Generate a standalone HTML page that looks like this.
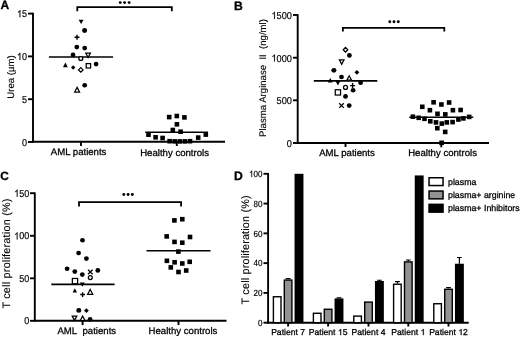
<!DOCTYPE html>
<html><head><meta charset="utf-8"><style>
html,body{margin:0;padding:0;background:#fff;}
svg{display:block;font-family:"Liberation Sans", sans-serif;will-change:transform;text-rendering:geometricPrecision;}
</style></head><body>
<svg width="520" height="337" viewBox="0 0 520 337">
<rect width="520" height="337" fill="#fff"/>
<text x="0.4" y="9.4" font-size="12.0" text-anchor="start" font-weight="bold" fill="#000" stroke="#000" stroke-width="0.3"  >A</text>
<line x1="33" y1="12.8" x2="33" y2="142.6" stroke="#000" stroke-width="1.9"/>
<line x1="28" y1="13.6" x2="33" y2="13.6" stroke="#000" stroke-width="1.9"/>
<path transform="translate(16.99,17.2) scale(0.004395,-0.004883)" d="M763 0H583V1147Q518 1085 412.5 1023Q307 961 223 930V1104Q374 1175 487 1276Q600 1377 647 1472H763Z" stroke="#000" stroke-width="36.9"/>
<text transform="translate(27.0,17.2) scale(0.9,1)" font-size="10.0" text-anchor="end" font-weight="normal" fill="#000" stroke="#000" stroke-width="0.18"  ><tspan fill="transparent" stroke="transparent">1</tspan>5</text>
<line x1="28" y1="56.4" x2="33" y2="56.4" stroke="#000" stroke-width="1.9"/>
<path transform="translate(16.99,60.0) scale(0.004395,-0.004883)" d="M763 0H583V1147Q518 1085 412.5 1023Q307 961 223 930V1104Q374 1175 487 1276Q600 1377 647 1472H763Z" stroke="#000" stroke-width="36.9"/>
<text transform="translate(27.0,60.0) scale(0.9,1)" font-size="10.0" text-anchor="end" font-weight="normal" fill="#000" stroke="#000" stroke-width="0.18"  ><tspan fill="transparent" stroke="transparent">1</tspan>0</text>
<line x1="28" y1="99.2" x2="33" y2="99.2" stroke="#000" stroke-width="1.9"/>
<text transform="translate(27.0,102.8) scale(0.9,1)" font-size="10.0" text-anchor="end" font-weight="normal" fill="#000" stroke="#000" stroke-width="0.18"  >5</text>
<line x1="28" y1="142" x2="33" y2="142" stroke="#000" stroke-width="1.9"/>
<text transform="translate(27.0,145.6) scale(0.9,1)" font-size="10.0" text-anchor="end" font-weight="normal" fill="#000" stroke="#000" stroke-width="0.18"  >0</text>
<line x1="32" y1="141.7" x2="225" y2="141.7" stroke="#000" stroke-width="1.9"/>
<line x1="81" y1="142" x2="81" y2="146" stroke="#000" stroke-width="1.9"/>
<line x1="176.8" y1="142" x2="176.8" y2="146" stroke="#000" stroke-width="1.9"/>
<text x="78.6" y="155.3" font-size="9.6" text-anchor="middle" font-weight="normal" fill="#000" stroke="#000" stroke-width="0.28"  >AML patients</text>
<text x="174.6" y="155.6" font-size="9.6" text-anchor="middle" font-weight="normal" fill="#000" stroke="#000" stroke-width="0.28"  >Healthy controls</text>
<text transform="translate(14.0,77) rotate(-90)" font-size="9.6" text-anchor="middle" fill="#000" stroke="#000" stroke-width="0.12"  >Urea (µm)</text>
<path d="M77.3 11.3V7.05H171.8V11.3" fill="none" stroke="#000" stroke-width="1.8"/>
<circle cx="120.2" cy="2.6" r="1.45"/>
<circle cx="124.6" cy="2.6" r="1.45"/>
<circle cx="129.1" cy="2.6" r="1.45"/>
<line x1="48.9" y1="57.0" x2="113.1" y2="57.0" stroke="#000" stroke-width="1.6"/>
<line x1="145.2" y1="132.3" x2="208" y2="132.3" stroke="#000" stroke-width="1.6"/>
<path d="M81.1 24.099999999999998L83.55 19.7L78.64999999999999 19.7Z"/>
<ellipse cx="84.6" cy="30.5" rx="2.52" ry="2.415"/>
<path d="M74.5 37.2H79.5M77 34.7V39.7" stroke="#000" stroke-width="1.4"/>
<ellipse cx="76.8" cy="47.1" rx="2.4" ry="2.3"/>
<ellipse cx="84.7" cy="48.1" rx="2.4" ry="2.3"/>
<ellipse cx="73" cy="54.9" rx="2.4" ry="2.3"/>
<path d="M88.1 57.5L90.39999999999999 53.1L85.8 53.1Z" fill="#fff" stroke="#000" stroke-width="1.25"/>
<circle cx="80.8" cy="58.5" r="1.95" fill="#fff" stroke="#000" stroke-width="1.3"/>
<path d="M65.4 62.6L67.85000000000001 67.2L62.95 67.2Z"/>
<path d="M73.2 65.34L75.36 67.5L73.2 69.66L71.04 67.5Z"/>
<path d="M80.8 67.60000000000001L83.1 69.9L80.8 72.2L78.5 69.9Z" fill="#fff" stroke="#000" stroke-width="1.25"/>
<rect x="86.2" y="63.599999999999994" width="4.4" height="4.4" fill="#fff" stroke="#000" stroke-width="1.25"/>
<ellipse cx="96.1" cy="64.1" rx="2.4" ry="2.3"/>
<ellipse cx="84.7" cy="85.3" rx="2.4" ry="2.3"/>
<path d="M77.1 87.38000000000001L79.515 92.0L74.68499999999999 92.0Z" fill="#fff" stroke="#000" stroke-width="1.25" stroke-linejoin="miter"/>
<rect x="166.89999999999998" y="114.8" width="4.6" height="4.6"/>
<rect x="174.5" y="113.7" width="4.6" height="4.6"/>
<rect x="182.1" y="115.10000000000001" width="4.6" height="4.6"/>
<rect x="174.6" y="122.0" width="4.6" height="4.6"/>
<rect x="170.5" y="127.7" width="4.6" height="4.6"/>
<rect x="178.29999999999998" y="129.39999999999998" width="4.6" height="4.6"/>
<rect x="146.2" y="132.39999999999998" width="4.6" height="4.6"/>
<rect x="203.5" y="132.29999999999998" width="4.6" height="4.6"/>
<rect x="153.29999999999998" y="135.0" width="4.6" height="4.6"/>
<rect x="160.29999999999998" y="135.7" width="4.6" height="4.6"/>
<rect x="195.89999999999998" y="135.29999999999998" width="4.6" height="4.6"/>
<rect x="167.29999999999998" y="138.89999999999998" width="4.6" height="4.6"/>
<rect x="172.39999999999998" y="139.1" width="4.6" height="4.6"/>
<rect x="177.5" y="139.1" width="4.6" height="4.6"/>
<rect x="182.6" y="139.1" width="4.6" height="4.6"/>
<rect x="187.7" y="138.89999999999998" width="4.6" height="4.6"/>
<text x="233.9" y="9.6" font-size="12.2" text-anchor="start" font-weight="bold" fill="#000" stroke="#000" stroke-width="0.3"  >B</text>
<line x1="297.7" y1="14.2" x2="297.7" y2="143.9" stroke="#000" stroke-width="1.9"/>
<line x1="293" y1="15" x2="297.7" y2="15" stroke="#000" stroke-width="1.9"/>
<path transform="translate(271.43,18.9) scale(0.004492,-0.004883)" d="M763 0H583V1147Q518 1085 412.5 1023Q307 961 223 930V1104Q374 1175 487 1276Q600 1377 647 1472H763Z" stroke="#000" stroke-width="36.9"/>
<text transform="translate(291.9,18.9) scale(0.92,1)" font-size="10.0" text-anchor="end" font-weight="normal" fill="#000" stroke="#000" stroke-width="0.18"  ><tspan fill="transparent" stroke="transparent">1</tspan>500</text>
<line x1="293" y1="57.7" x2="297.7" y2="57.7" stroke="#000" stroke-width="1.9"/>
<path transform="translate(271.43,61.6) scale(0.004492,-0.004883)" d="M763 0H583V1147Q518 1085 412.5 1023Q307 961 223 930V1104Q374 1175 487 1276Q600 1377 647 1472H763Z" stroke="#000" stroke-width="36.9"/>
<text transform="translate(291.9,61.6) scale(0.92,1)" font-size="10.0" text-anchor="end" font-weight="normal" fill="#000" stroke="#000" stroke-width="0.18"  ><tspan fill="transparent" stroke="transparent">1</tspan>000</text>
<line x1="293" y1="100.3" x2="297.7" y2="100.3" stroke="#000" stroke-width="1.9"/>
<text transform="translate(291.9,104.2) scale(0.92,1)" font-size="10.0" text-anchor="end" font-weight="normal" fill="#000" stroke="#000" stroke-width="0.18"  >500</text>
<line x1="293" y1="143" x2="297.7" y2="143" stroke="#000" stroke-width="1.9"/>
<text transform="translate(291.9,146.9) scale(0.92,1)" font-size="10.0" text-anchor="end" font-weight="normal" fill="#000" stroke="#000" stroke-width="0.18"  >0</text>
<line x1="296.8" y1="143" x2="489" y2="143" stroke="#000" stroke-width="1.9"/>
<line x1="345.5" y1="143" x2="345.5" y2="147" stroke="#000" stroke-width="1.9"/>
<line x1="441.3" y1="143" x2="441.3" y2="147.3" stroke="#000" stroke-width="1.9"/>
<text x="347" y="155.7" font-size="9.6" text-anchor="middle" font-weight="normal" fill="#000" stroke="#000" stroke-width="0.28"  >AML patients</text>
<text x="442.6" y="155.6" font-size="9.6" text-anchor="middle" font-weight="normal" fill="#000" stroke="#000" stroke-width="0.28"  >Healthy controls</text>
<text transform="translate(265.8,78) rotate(-90)" font-size="9.6" text-anchor="middle" fill="#000" stroke="#000" stroke-width="0.12"  >Plasma Arginase  II  (ng/ml)</text>
<path d="M342.9 31.5V27.8H444.3V31.5" fill="none" stroke="#000" stroke-width="1.8"/>
<circle cx="389.8" cy="21.8" r="1.45"/>
<circle cx="394" cy="21.8" r="1.45"/>
<circle cx="398.3" cy="21.8" r="1.45"/>
<line x1="313.8" y1="80.9" x2="377.3" y2="80.9" stroke="#000" stroke-width="1.6"/>
<line x1="409.3" y1="117.3" x2="473.2" y2="117.3" stroke="#000" stroke-width="1.6"/>
<path d="M345.5 47.400000000000006L347.8 49.7L345.5 52.0L343.2 49.7Z" fill="#fff" stroke="#000" stroke-width="1.25"/>
<ellipse cx="349.4" cy="55.4" rx="2.4" ry="2.3"/>
<path d="M341.7 64.3L344.0 59.9L339.4 59.9Z" fill="#fff" stroke="#000" stroke-width="1.25"/>
<ellipse cx="333.9" cy="70.3" rx="2.52" ry="2.415"/>
<path d="M356.9 69.89999999999999L359.29999999999995 72.3L356.9 74.7L354.5 72.3Z"/>
<ellipse cx="341.5" cy="77" rx="2.4" ry="2.3"/>
<path d="M349.2 75.8L351.5 80.2L346.9 80.2Z" fill="#fff" stroke="#000" stroke-width="1.25" stroke-linejoin="miter"/>
<path d="M330.2 77.89999999999999L332.65 82.5L327.75 82.5Z"/>
<path d="M337.9 85.5L340.34999999999997 81.1L335.45 81.1Z"/>
<ellipse cx="360.6" cy="82.8" rx="2.4" ry="2.3"/>
<circle cx="345.5" cy="87.4" r="1.95" fill="#fff" stroke="#000" stroke-width="1.3"/>
<path d="M350.1 85.6H355.1M352.6 83.1V88.1" stroke="#000" stroke-width="1.4"/>
<ellipse cx="353.1" cy="90.2" rx="2.4" ry="2.3"/>
<rect x="335.26" y="89.76" width="5.28" height="5.28" fill="#fff" stroke="#000" stroke-width="1.25"/>
<ellipse cx="345.5" cy="96.4" rx="2.4" ry="2.3"/>
<path d="M339.2 103.3L343.8 107.89999999999999M343.8 103.3L339.2 107.89999999999999" stroke="#000" stroke-width="1.3"/>
<ellipse cx="349.2" cy="105.6" rx="2.4" ry="2.3"/>
<rect x="431.3" y="100.0" width="4.6" height="4.6"/>
<rect x="439.09999999999997" y="102.2" width="4.6" height="4.6"/>
<rect x="446.8" y="100.2" width="4.6" height="4.6"/>
<rect x="420.0" y="104.5" width="4.6" height="4.6"/>
<rect x="427.59999999999997" y="107.9" width="4.6" height="4.6"/>
<rect x="450.59999999999997" y="107.9" width="4.6" height="4.6"/>
<rect x="458.3" y="107.7" width="4.6" height="4.6"/>
<rect x="435.2" y="111.5" width="4.6" height="4.6"/>
<rect x="443.0" y="112.10000000000001" width="4.6" height="4.6"/>
<rect x="410.59999999999997" y="114.4" width="4.6" height="4.6"/>
<rect x="416.4" y="115.5" width="4.6" height="4.6"/>
<rect x="422.2" y="116.5" width="4.6" height="4.6"/>
<rect x="428.0" y="119.0" width="4.6" height="4.6"/>
<rect x="433.7" y="120.10000000000001" width="4.6" height="4.6"/>
<rect x="439.5" y="121.3" width="4.6" height="4.6"/>
<rect x="444.5" y="120.10000000000001" width="4.6" height="4.6"/>
<rect x="450.3" y="119.8" width="4.6" height="4.6"/>
<rect x="456.09999999999997" y="117.2" width="4.6" height="4.6"/>
<rect x="461.09999999999997" y="116.10000000000001" width="4.6" height="4.6"/>
<rect x="466.9" y="114.60000000000001" width="4.6" height="4.6"/>
<rect x="435.0" y="125.89999999999999" width="4.6" height="4.6"/>
<rect x="442.9" y="129.6" width="4.6" height="4.6"/>
<rect x="439.3" y="140.5" width="4.6" height="4.6"/>
<text x="0.3" y="180.2" font-size="11.9" text-anchor="start" font-weight="bold" fill="#000" stroke="#000" stroke-width="0.3"  >C</text>
<line x1="34.8" y1="192.4" x2="34.8" y2="321.6" stroke="#000" stroke-width="1.9"/>
<line x1="30" y1="193.2" x2="34.8" y2="193.2" stroke="#000" stroke-width="1.9"/>
<path transform="translate(14.18,196.79999999999998) scale(0.004395,-0.004883)" d="M763 0H583V1147Q518 1085 412.5 1023Q307 961 223 930V1104Q374 1175 487 1276Q600 1377 647 1472H763Z" stroke="#000" stroke-width="36.9"/>
<text transform="translate(29.2,196.79999999999998) scale(0.9,1)" font-size="10.0" text-anchor="end" font-weight="normal" fill="#000" stroke="#000" stroke-width="0.18"  ><tspan fill="transparent" stroke="transparent">1</tspan>50</text>
<line x1="30" y1="235.8" x2="34.8" y2="235.8" stroke="#000" stroke-width="1.9"/>
<path transform="translate(14.18,239.4) scale(0.004395,-0.004883)" d="M763 0H583V1147Q518 1085 412.5 1023Q307 961 223 930V1104Q374 1175 487 1276Q600 1377 647 1472H763Z" stroke="#000" stroke-width="36.9"/>
<text transform="translate(29.2,239.4) scale(0.9,1)" font-size="10.0" text-anchor="end" font-weight="normal" fill="#000" stroke="#000" stroke-width="0.18"  ><tspan fill="transparent" stroke="transparent">1</tspan>00</text>
<line x1="30" y1="278.3" x2="34.8" y2="278.3" stroke="#000" stroke-width="1.9"/>
<text transform="translate(29.2,281.90000000000003) scale(0.9,1)" font-size="10.0" text-anchor="end" font-weight="normal" fill="#000" stroke="#000" stroke-width="0.18"  >50</text>
<line x1="30" y1="320.8" x2="34.8" y2="320.8" stroke="#000" stroke-width="1.9"/>
<text transform="translate(29.2,324.40000000000003) scale(0.9,1)" font-size="10.0" text-anchor="end" font-weight="normal" fill="#000" stroke="#000" stroke-width="0.18"  >0</text>
<line x1="34" y1="320.8" x2="226.5" y2="320.8" stroke="#000" stroke-width="1.9"/>
<line x1="82.6" y1="320.8" x2="82.6" y2="325" stroke="#000" stroke-width="1.9"/>
<line x1="178.5" y1="320.8" x2="178.5" y2="325" stroke="#000" stroke-width="1.9"/>
<text x="86.8" y="334.2" font-size="9.6" text-anchor="middle" font-weight="normal" fill="#000" stroke="#000" stroke-width="0.28"  >AML  patients</text>
<text x="183" y="333.5" font-size="9.6" text-anchor="middle" font-weight="normal" fill="#000" stroke="#000" stroke-width="0.28"  >Healthy controls</text>
<text transform="translate(9.5,253.6) rotate(-90)" font-size="10.8" text-anchor="middle" fill="#000" stroke="#000" stroke-width="0.12" textLength="110" lengthAdjust="spacing" >T cell proliferation (%)</text>
<path d="M79 206.5V202.1H181.1V206.5" fill="none" stroke="#000" stroke-width="1.8"/>
<circle cx="123.8" cy="194.5" r="1.45"/>
<circle cx="128.1" cy="194.5" r="1.45"/>
<circle cx="132.3" cy="194.5" r="1.45"/>
<line x1="51.3" y1="284.4" x2="114.6" y2="284.4" stroke="#000" stroke-width="1.6"/>
<line x1="146.5" y1="250.7" x2="210.5" y2="250.7" stroke="#000" stroke-width="1.6"/>
<ellipse cx="82.5" cy="240.2" rx="2.4" ry="2.3"/>
<ellipse cx="78.6" cy="253" rx="2.4" ry="2.3"/>
<ellipse cx="86.4" cy="258.6" rx="2.4" ry="2.3"/>
<ellipse cx="67.1" cy="268.8" rx="2.4" ry="2.3"/>
<ellipse cx="74.8" cy="271.6" rx="2.4" ry="2.3"/>
<ellipse cx="82.3" cy="274.6" rx="2.4" ry="2.3"/>
<path d="M88.0 269.7L92.6 274.3M92.6 269.7L88.0 274.3" stroke="#000" stroke-width="1.3"/>
<circle cx="90.3" cy="277.6" r="1.95" fill="#fff" stroke="#000" stroke-width="1.3"/>
<ellipse cx="97.8" cy="270.4" rx="2.4" ry="2.3"/>
<rect x="72.36" y="278.46000000000004" width="5.28" height="5.28" fill="#fff" stroke="#000" stroke-width="1.25"/>
<path d="M82.3 286.8L84.75 282.40000000000003L79.85 282.40000000000003Z"/>
<path d="M74.8 288.23999999999995L77.005 292.38L72.595 292.38Z"/>
<path d="M80.225 294.5H84.975M82.6 292.125V296.875" stroke="#000" stroke-width="1.4"/>
<path d="M90.2 289.46000000000004L92.73 294.3L87.67 294.3Z" fill="#fff" stroke="#000" stroke-width="1.25" stroke-linejoin="miter"/>
<ellipse cx="78.8" cy="310.4" rx="2.52" ry="2.415"/>
<path d="M86.4 308.20000000000005L88.80000000000001 310.6L86.4 313.0L84.0 310.6Z"/>
<path d="M74.5 320.4L76.8 316.0L72.2 316.0Z" fill="#fff" stroke="#000" stroke-width="1.25"/>
<path d="M82.6 316.1L84.89999999999999 320.5L80.3 320.5Z" fill="#fff" stroke="#000" stroke-width="1.25" stroke-linejoin="miter"/>
<ellipse cx="90.1" cy="319.4" rx="2.4" ry="2.3"/>
<rect x="172.1" y="218.1" width="4.6" height="4.6"/>
<rect x="180.0" y="216.89999999999998" width="4.6" height="4.6"/>
<rect x="164.39999999999998" y="234.1" width="4.6" height="4.6"/>
<rect x="187.7" y="234.7" width="4.6" height="4.6"/>
<rect x="172.2" y="239.6" width="4.6" height="4.6"/>
<rect x="180.0" y="240.39999999999998" width="4.6" height="4.6"/>
<rect x="176.1" y="249.29999999999998" width="4.6" height="4.6"/>
<rect x="164.6" y="258.5" width="4.6" height="4.6"/>
<rect x="172.29999999999998" y="260.0" width="4.6" height="4.6"/>
<rect x="180.0" y="261.2" width="4.6" height="4.6"/>
<rect x="187.39999999999998" y="259.5" width="4.6" height="4.6"/>
<rect x="168.5" y="265.09999999999997" width="4.6" height="4.6"/>
<rect x="176.2" y="269.7" width="4.6" height="4.6"/>
<rect x="183.89999999999998" y="268.2" width="4.6" height="4.6"/>
<text x="233.9" y="179.9" font-size="12.2" text-anchor="start" font-weight="bold" fill="#000" stroke="#000" stroke-width="0.3"  >D</text>
<line x1="268.1" y1="173" x2="268.1" y2="323.6" stroke="#000" stroke-width="1.9"/>
<line x1="263.5" y1="173.8" x2="268.1" y2="173.8" stroke="#000" stroke-width="1.9"/>
<path transform="translate(249.14,177.0) scale(0.003911,-0.004395)" d="M763 0H583V1147Q518 1085 412.5 1023Q307 961 223 930V1104Q374 1175 487 1276Q600 1377 647 1472H763Z" stroke="#000" stroke-width="41.0"/>
<text transform="translate(262.5,177.0) scale(0.89,1)" font-size="9.0" text-anchor="end" font-weight="normal" fill="#000" stroke="#000" stroke-width="0.18"  ><tspan fill="transparent" stroke="transparent">1</tspan>00</text>
<line x1="263.5" y1="203.57999999999998" x2="268.1" y2="203.57999999999998" stroke="#000" stroke-width="1.9"/>
<text transform="translate(262.5,206.77999999999997) scale(0.89,1)" font-size="9.0" text-anchor="end" font-weight="normal" fill="#000" stroke="#000" stroke-width="0.18"  >80</text>
<line x1="263.5" y1="233.36" x2="268.1" y2="233.36" stroke="#000" stroke-width="1.9"/>
<text transform="translate(262.5,236.56) scale(0.89,1)" font-size="9.0" text-anchor="end" font-weight="normal" fill="#000" stroke="#000" stroke-width="0.18"  >60</text>
<line x1="263.5" y1="263.14" x2="268.1" y2="263.14" stroke="#000" stroke-width="1.9"/>
<text transform="translate(262.5,266.34) scale(0.89,1)" font-size="9.0" text-anchor="end" font-weight="normal" fill="#000" stroke="#000" stroke-width="0.18"  >40</text>
<line x1="263.5" y1="292.92" x2="268.1" y2="292.92" stroke="#000" stroke-width="1.9"/>
<text transform="translate(262.5,296.12) scale(0.89,1)" font-size="9.0" text-anchor="end" font-weight="normal" fill="#000" stroke="#000" stroke-width="0.18"  >20</text>
<line x1="263.5" y1="322.7" x2="268.1" y2="322.7" stroke="#000" stroke-width="1.9"/>
<text transform="translate(262.5,325.9) scale(0.89,1)" font-size="9.0" text-anchor="end" font-weight="normal" fill="#000" stroke="#000" stroke-width="0.18"  >0</text>
<line x1="267.2" y1="322.7" x2="468.7" y2="322.7" stroke="#000" stroke-width="1.9"/>
<line x1="288.1" y1="322.7" x2="288.1" y2="326.5" stroke="#000" stroke-width="1.9"/>
<rect x="273.40000000000003" y="296.7469" width="7.6" height="25.953099999999996" fill="#fff" stroke="#000" stroke-width="1.4"/>
<path d="M288.1 279.3701V278.62559999999996M285.70000000000005 278.62559999999996H290.5" stroke="#000" stroke-width="1.2"/>
<rect x="284.3" y="280.07009999999997" width="7.6" height="42.629900000000006" fill="#929292" stroke="#000" stroke-width="1.4"/>
<rect x="294.55" y="173.8" width="8.9" height="148.89999999999998" fill="#000"/>
<line x1="328.1" y1="322.7" x2="328.1" y2="326.5" stroke="#000" stroke-width="1.9"/>
<rect x="313.40000000000003" y="313.27479999999997" width="7.6" height="9.425200000000007" fill="#fff" stroke="#000" stroke-width="1.4"/>
<rect x="324.3" y="309.25449999999995" width="7.6" height="13.445500000000028" fill="#929292" stroke="#000" stroke-width="1.4"/>
<path d="M339.0 298.4293V297.8337M336.6 297.8337H341.4" stroke="#000" stroke-width="1.2"/>
<rect x="334.55" y="298.4293" width="8.9" height="24.270699999999977" fill="#000"/>
<line x1="368.5" y1="322.7" x2="368.5" y2="326.5" stroke="#000" stroke-width="1.9"/>
<rect x="353.8" y="316.10389999999995" width="7.6" height="6.596100000000024" fill="#fff" stroke="#000" stroke-width="1.4"/>
<rect x="364.7" y="302.10729999999995" width="7.6" height="20.592700000000026" fill="#929292" stroke="#000" stroke-width="1.4"/>
<path d="M379.4 281.008V280.26349999999996M377.0 280.26349999999996H381.79999999999995" stroke="#000" stroke-width="1.2"/>
<rect x="374.95" y="281.008" width="8.9" height="41.69200000000001" fill="#000"/>
<line x1="408.3" y1="322.7" x2="408.3" y2="326.5" stroke="#000" stroke-width="1.9"/>
<path d="M397.40000000000003 283.53929999999997V281.6036M395.00000000000006 281.6036H399.8" stroke="#000" stroke-width="1.2"/>
<rect x="393.6" y="284.23929999999996" width="7.6" height="38.46070000000002" fill="#fff" stroke="#000" stroke-width="1.4"/>
<path d="M408.3 261.2043V260.0131M405.90000000000003 260.0131H410.7" stroke="#000" stroke-width="1.2"/>
<rect x="404.5" y="261.9043" width="7.6" height="60.7957" fill="#929292" stroke="#000" stroke-width="1.4"/>
<rect x="414.75" y="175.43789999999998" width="8.9" height="147.2621" fill="#000"/>
<line x1="448.5" y1="322.7" x2="448.5" y2="326.5" stroke="#000" stroke-width="1.9"/>
<rect x="433.8" y="303.74519999999995" width="7.6" height="18.954800000000024" fill="#fff" stroke="#000" stroke-width="1.4"/>
<path d="M448.5 288.6019V287.7085M446.1 287.7085H450.9" stroke="#000" stroke-width="1.2"/>
<rect x="444.7" y="289.3019" width="7.6" height="33.398099999999985" fill="#929292" stroke="#000" stroke-width="1.4"/>
<path d="M459.4 263.7356V257.48179999999996M457.0 257.48179999999996H461.79999999999995" stroke="#000" stroke-width="1.2"/>
<rect x="454.95" y="263.7356" width="8.9" height="58.96440000000001" fill="#000"/>
<text x="288.1" y="335.1" font-size="8.6" text-anchor="middle" font-weight="normal" fill="#000" stroke="#000" stroke-width="0.28"  >Patient 7</text>
<path transform="translate(337.90,335.1) scale(0.004199,-0.004199)" d="M763 0H583V1147Q518 1085 412.5 1023Q307 961 223 930V1104Q374 1175 487 1276Q600 1377 647 1472H763Z" stroke="#000" stroke-width="66.7"/>
<text x="328.1" y="335.1" font-size="8.6" text-anchor="middle" font-weight="normal" fill="#000" stroke="#000" stroke-width="0.28"  >Patient <tspan fill="transparent" stroke="transparent">1</tspan>5</text>
<text x="368.5" y="335.1" font-size="8.6" text-anchor="middle" font-weight="normal" fill="#000" stroke="#000" stroke-width="0.28"  >Patient 4</text>
<path transform="translate(420.49,335.1) scale(0.004199,-0.004199)" d="M763 0H583V1147Q518 1085 412.5 1023Q307 961 223 930V1104Q374 1175 487 1276Q600 1377 647 1472H763Z" stroke="#000" stroke-width="66.7"/>
<text x="408.3" y="335.1" font-size="8.6" text-anchor="middle" font-weight="normal" fill="#000" stroke="#000" stroke-width="0.28"  >Patient <tspan fill="transparent" stroke="transparent">1</tspan></text>
<path transform="translate(458.30,335.1) scale(0.004199,-0.004199)" d="M763 0H583V1147Q518 1085 412.5 1023Q307 961 223 930V1104Q374 1175 487 1276Q600 1377 647 1472H763Z" stroke="#000" stroke-width="66.7"/>
<text x="448.5" y="335.1" font-size="8.6" text-anchor="middle" font-weight="normal" fill="#000" stroke="#000" stroke-width="0.28"  >Patient <tspan fill="transparent" stroke="transparent">1</tspan>2</text>
<text transform="translate(249.0,249.9) rotate(-90)" font-size="10.8" text-anchor="middle" fill="#000" stroke="#000" stroke-width="0.12" textLength="109" lengthAdjust="spacing" >T cell proliferation (%)</text>
<rect x="429.05" y="177.75" width="14.0" height="7.8" fill="#fff" stroke="#000" stroke-width="1.5"/>
<text x="448.0" y="184.7" font-size="8.8" text-anchor="start" font-weight="normal" fill="#000" stroke="#000" stroke-width="0.28"  >plasma</text>
<rect x="429.05" y="191.05" width="14.0" height="7.8" fill="#929292" stroke="#000" stroke-width="1.5"/>
<text x="448.0" y="198.0" font-size="8.8" text-anchor="start" font-weight="normal" fill="#000" stroke="#000" stroke-width="0.28"  >plasma+ arginine</text>
<rect x="428.3" y="203.6" width="15.5" height="9.3" fill="#000"/>
<text x="448.0" y="211.29999999999998" font-size="8.8" text-anchor="start" font-weight="normal" fill="#000" stroke="#000" stroke-width="0.28"  >plasma+ Inhibitors</text>
</svg>
</body></html>
